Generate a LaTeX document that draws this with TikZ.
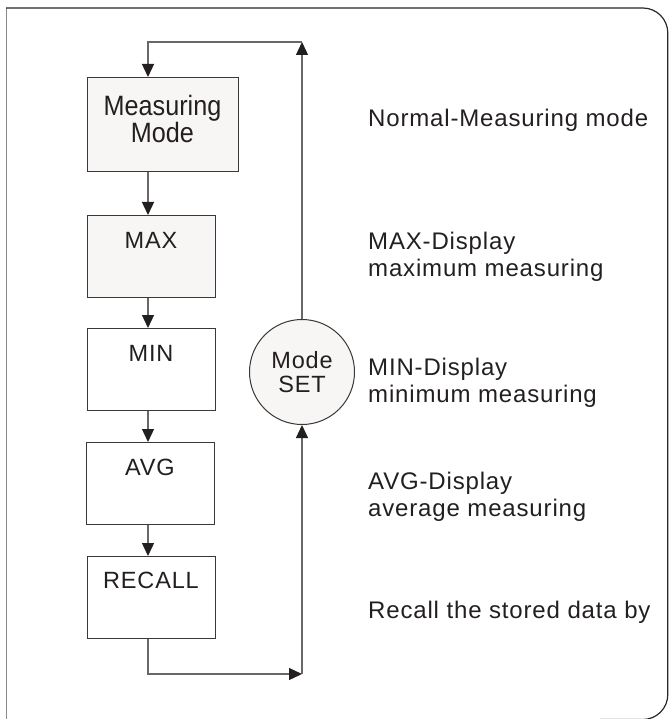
\documentclass[tikz,border=0pt]{standalone}
\usepackage{fontspec}
\setmainfont{Liberation Sans}[LetterSpace=3.5]
\newfontfamily\narrowfont{Liberation Sans}[FakeStretch=0.9]
\usetikzlibrary{arrows.meta}

\definecolor{boxline}{HTML}{3A3838}
\definecolor{wire}{HTML}{6A6767}
\definecolor{paleFill}{HTML}{F8F6F4}
\definecolor{frameDark}{HTML}{2A2526}
\definecolor{frameGray}{HTML}{8C8888}
\definecolor{ink}{HTML}{231F20}

\begin{document}
\begin{tikzpicture}[x=1pt,y=-1pt,
  box/.style={draw=boxline, line width=1.3pt, inner sep=0pt, anchor=north west,
              minimum width=128pt, minimum height=82pt},
  lbl/.style={font=\fontsize{23.5}{26}\selectfont, text=ink, inner sep=0pt, anchor=base},
  desc/.style={font=\fontsize{24}{27}\selectfont, text=ink, inner sep=0pt,
               anchor=base west, align=left},
  flow/.style={draw=wire, line width=1.3pt},
  tip/.style={-{Triangle[width=12pt,length=13pt,color=ink]}}
]
\useasboundingbox (0,0) rectangle (669,719);

% outer frame: open at the bottom, rounded on the right
\draw[frameGray, line width=1.6pt] (6.5,725) -- (6.5,8);
\draw[frameDark, line width=1.2pt, rounded corners=25pt]
  (6,8) -- (667.8,8) -- (667.8,719.5) -- (600,719.5);

% flow boxes (multi-line labels are anchored on their last baseline)
\node[box, fill=paleFill, minimum width=151pt, minimum height=94pt] (mm) at (87,77) {};
\node[font=\narrowfont\fontsize{28}{22}\selectfont, text=ink, inner sep=0pt,
      align=center, anchor=base] (mmt) at (162.5,143) {Measuring\\Mode};

\node[box, fill=paleFill] (mx) at (87,215) {};
\node[lbl] (mxt) at (151,248) {MAX};

\node[box, fill=white] (mn) at (87,328) {};
\node[lbl] (mnt) at (151,361) {MIN};

\node[box, fill=white] (av) at (86,442) {};
\node[lbl] (avt) at (150,475) {AVG};

\node[box, fill=white] (rc) at (87,556) {};
\node[lbl] (rct) at (151,588) {RECALL};

% mode-set button
\node[circle, draw=boxline, line width=1pt, fill=paleFill, minimum size=105pt,
      inner sep=0pt, align=center, text=ink,
      font=\fontsize{23.5}{24}\selectfont] (ms) at (302,372) {Mode\\SET};

% routing points
\coordinate (ct) at (302,42);
\coordinate (cl) at (148,42);
\coordinate (cb) at (302,674);
\coordinate (cr) at (148,674);

% connectors
\draw[flow, tip] (mm.south -| cl) -- (mx.north -| cl);
\draw[flow, tip] (mx.south -| cl) -- (mn.north -| cl);
\draw[flow, tip] (mn.south -| cl) -- (av.north -| cl);
\draw[flow, tip] (av.south -| cl) -- (rc.north -| cl);
\draw[flow, tip] (rc.south -| cr) -- (cr) -- (cb);
\draw[flow, tip] (cb) -- (ms.south);
\draw[flow, tip] (ms.north) -- (ct);
\draw[flow, tip] (ct) -- (cl) -- (mm.north -| cl);

% descriptions
\node[desc] (d1) at (368,127) {Normal-Measuring mode};
\node[desc] (d2) at (368,276) {MAX-Display\\maximum measuring};
\node[desc] (d3) at (368,402) {MIN-Display\\minimum measuring};
\node[desc] (d4) at (368,516) {AVG-Display\\average measuring};
\node[desc] (d5) at (368,618) {Recall the stored data by};
\end{tikzpicture}
\end{document}
